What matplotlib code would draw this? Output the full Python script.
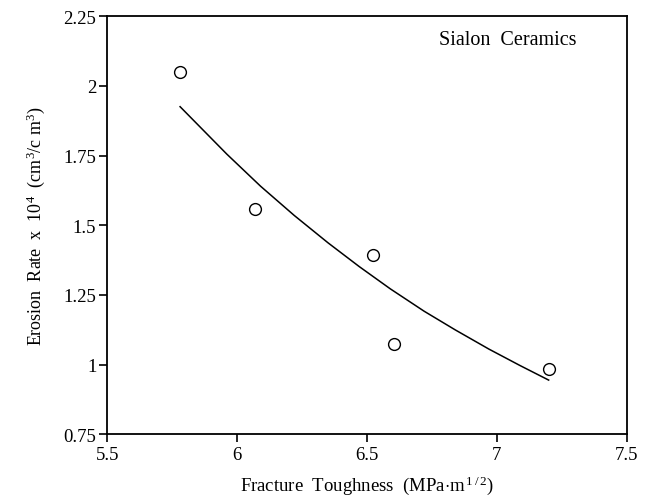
import matplotlib
matplotlib.use("Agg")
from matplotlib import pyplot as plt

# measured points (fracture toughness vs erosion rate)
toughness = [5.78, 6.07, 6.525, 6.605, 7.20]
erosion = [2.05, 1.56, 1.393, 1.073, 0.985]

# fitted curve
curve_x = [5.78, 5.96, 6.09, 6.22, 6.35, 6.47, 6.59, 6.72, 6.84, 6.97, 7.09, 7.20]
curve_y = [1.925, 1.755, 1.640, 1.535, 1.437, 1.352, 1.272, 1.192, 1.125, 1.056, 0.997, 0.945]

xticks = [5.5, 6, 6.5, 7, 7.5]
xtick_labels = ["5.5", "6", "6.5", "7", "7.5"]
yticks = [0.75, 1, 1.25, 1.5, 1.75, 2, 2.25]
ytick_labels = ["0.75", "1", "1.25", "1.5", "1.75", "2", "2.25"]

plt.rcParams['font.family'] = ['Liberation Serif', 'DejaVu Serif']
plt.rcParams['mathtext.fontset'] = 'custom'
plt.rcParams['mathtext.rm'] = 'Liberation Serif'
plt.rcParams['mathtext.it'] = 'Liberation Serif'

fig = plt.figure(figsize=(6.51, 5.02), dpi=100)
ax = fig.add_axes([0.165, 0.1325, 0.7974, 0.8336])

ax.plot(curve_x, curve_y, color='black', linewidth=1.1)
ax.plot(toughness, erosion, 'o', markersize=8.5, markerfacecolor='white',
        markeredgecolor='black', markeredgewidth=1.0)

ax.set_xlim(5.5, 7.5)
ax.set_ylim(0.75, 2.25)
ax.set_xticks(xticks)
ax.set_xticklabels(xtick_labels)
ax.set_yticks(yticks)
ax.set_yticklabels(ytick_labels)
ax.tick_params(direction='out', length=6, width=1.2, labelsize=13.5, pad=2)

for s in ax.spines.values():
    s.set_linewidth(1.3)

ax.text(0.772, 0.945, "Sialon  Ceramics", transform=ax.transAxes,
        ha='center', va='center', fontsize=14.5)

ax.set_xlabel(r"Fracture  Toughness  (MPa$\cdot$m$^{\,1\,/\,2}$)", fontsize=13.5)
ax.xaxis.set_label_coords(0.5, -0.093)
ax.set_ylabel(r"Erosion  Rate  x  10$^{4}$  (cm$^{3}$/c m$^{3}$)", fontsize=13, labelpad=12)

plt.savefig("out.png", dpi=100)
